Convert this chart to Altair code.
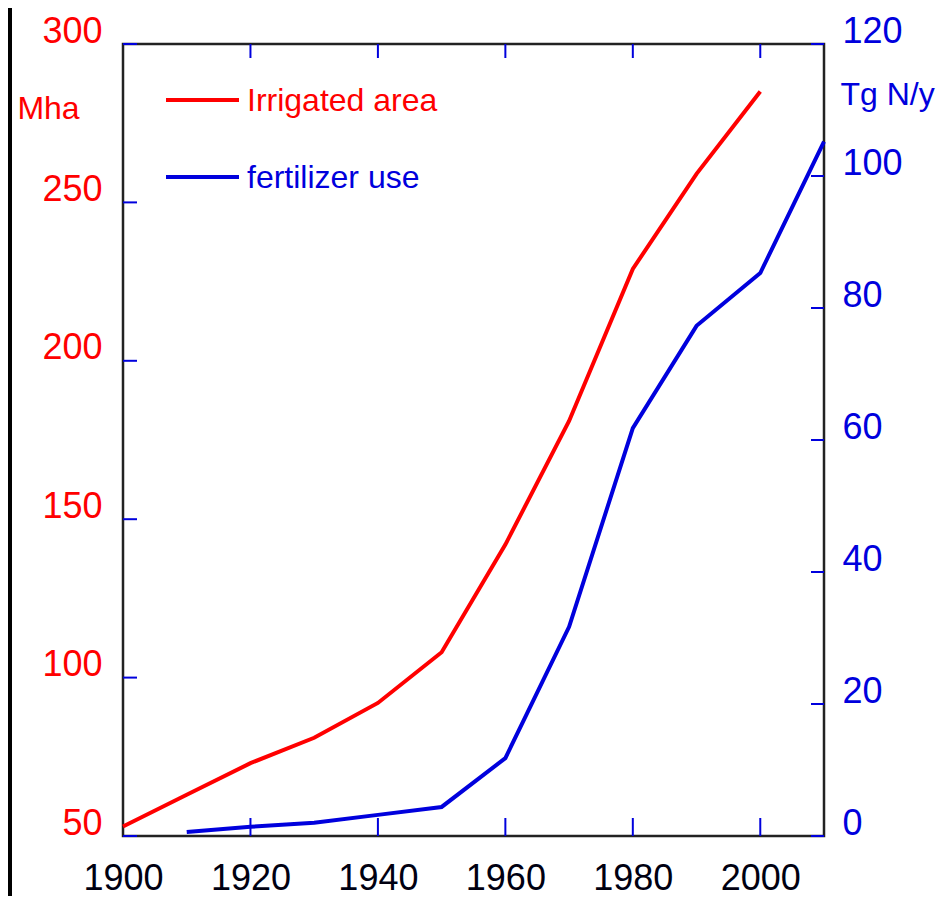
import altair as alt
import pandas as pd

# ---- data ----
years_irr = [1900, 1910, 1920, 1930, 1940, 1950, 1960, 1970, 1980, 1990, 2000]
irrigated_mha = [53, 63, 73, 81, 92, 108, 142, 181, 229, 259, 285]

years_fert = [1910, 1920, 1930, 1940, 1950, 1960, 1970, 1980, 1990, 2000, 2010]
fertilizer_tgn = [0.6, 1.4, 2.0, 3.2, 4.4, 11.8, 31.7, 61.8, 77.3, 85.3, 105.2]

x_label_values = [1900, 1920, 1940, 1960, 1980, 2000]
x_tick_values = [1920, 1940, 1960, 1980, 2000]
left_tick_values = [50, 100, 150, 200, 250, 300]
right_tick_values = [0, 20, 40, 60, 80, 100, 120]
series_names = ["Irrigated area", "fertilizer use"]

# ---- styling ----
W, H = 701, 792
FONT = "Liberation Sans, Arial"
RED = "#ff0000"
BLUE = "#0000dd"
LABEL_SIZE = 36
TEXT_SIZE = 32

df_irr = pd.DataFrame({"year": years_irr, "value": irrigated_mha})
df_fert = pd.DataFrame({"year": years_fert, "value": fertilizer_tgn})
df_xt = pd.DataFrame({"year": x_tick_values})
df_lt = pd.DataFrame({"v": left_tick_values})
df_rt = pd.DataFrame({"v": right_tick_values})

x_scale = alt.Scale(domain=[1900, 2010], nice=False, zero=False)
yl_scale = alt.Scale(domain=[50, 300], nice=False, zero=False)
yr_scale = alt.Scale(domain=[0, 120], nice=False, zero=False)

x_axis = alt.Axis(values=x_label_values, format="d", title=None, ticks=False,
                  domain=False, grid=False, labelFontSize=LABEL_SIZE, labelFont=FONT,
                  labelColor="#000011", labelPadding=25, labelFlush=False)

red_line = alt.Chart(df_irr).mark_line(color=RED, strokeWidth=4).encode(
    x=alt.X("year:Q", scale=x_scale, axis=x_axis),
    y=alt.Y("value:Q", scale=yl_scale, axis=alt.Axis(
        orient="left", values=left_tick_values, title="Mha", titleAngle=0,
        titleX=-75, titleY=64, titleAlign="center", titleBaseline="middle",
        titleColor=RED, titleFont=FONT, titleFontSize=TEXT_SIZE, titleFontWeight="normal",
        ticks=False, domain=False, grid=False, labelColor=RED, labelFontSize=LABEL_SIZE,
        labelFont=FONT, labelPadding=21, labelOffset=-13, labelFlush=False)),
)

blue_line = alt.Chart(df_fert).mark_line(color=BLUE, strokeWidth=4).encode(
    x=alt.X("year:Q", scale=x_scale),
    y=alt.Y("value:Q", scale=yr_scale, axis=alt.Axis(
        orient="right", values=right_tick_values, title="Tg N/y", titleAngle=0,
        titleX=63, titleY=50, titleAlign="center", titleBaseline="middle",
        titleColor=BLUE, titleFont=FONT, titleFontSize=TEXT_SIZE, titleFontWeight="normal",
        ticks=False, domain=False, grid=False, labelColor=BLUE, labelFontSize=LABEL_SIZE,
        labelFont=FONT, labelPadding=18, labelOffset=-13, labelFlush=False)),
)

bottom_ticks = alt.Chart(df_xt).mark_rule(color=BLUE, strokeWidth=2).encode(
    x=alt.X("year:Q", scale=x_scale), y=alt.value(H), y2=alt.value(H - 18))
top_ticks = alt.Chart(df_xt).mark_rule(color=BLUE, strokeWidth=2).encode(
    x=alt.X("year:Q", scale=x_scale), y=alt.value(0), y2=alt.value(14))
left_ticks = alt.Chart(df_lt).mark_rule(color=BLUE, strokeWidth=2).encode(
    y=alt.Y("v:Q", scale=yl_scale, axis=None), x=alt.value(0), x2=alt.value(14))
right_ticks = alt.Chart(df_rt).mark_rule(color=BLUE, strokeWidth=2).encode(
    y=alt.Y("v:Q", scale=yr_scale, axis=None), x=alt.value(W - 13), x2=alt.value(W))

# ---- legend ----
leg_rows = [(series_names[0], RED, 56), (series_names[1], BLUE, 133)]
legend_layers = []
for name, col, yy in leg_rows:
    d = pd.DataFrame({"label": [name]})
    legend_layers.append(alt.Chart(d).mark_rule(color=col, strokeWidth=4).encode(
        x=alt.value(43), x2=alt.value(116), y=alt.value(yy)))
    legend_layers.append(alt.Chart(d).mark_text(
        align="left", baseline="middle", font=FONT, fontSize=TEXT_SIZE, color=col).encode(
        x=alt.value(124), y=alt.value(yy + 1), text="label:N"))

# left page border (scan edge)
border = alt.Chart(pd.DataFrame({"a": [0]})).mark_rule(color="black", strokeWidth=6).encode(
    x=alt.value(-114), y=alt.value(-40), y2=alt.value(H + 70))

chart = alt.layer(
    red_line, blue_line, bottom_ticks, top_ticks, left_ticks, right_ticks,
    *legend_layers, border
).resolve_scale(y="independent").properties(
    width=W, height=H,
    autosize=alt.AutoSizeParams(type="none"),
    padding={"left": 115, "top": 36, "right": 119, "bottom": 60},
).configure_view(stroke="#222222", strokeWidth=2.5).configure_axis(grid=False)

chart.save("out.html", embed_options={"renderer": "svg", "actions": False})
